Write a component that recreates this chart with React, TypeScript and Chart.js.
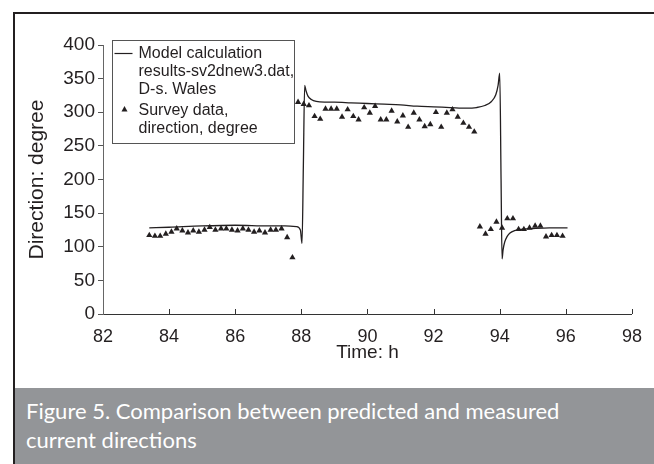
import React, { useEffect, useRef } from "react";
import { Chart, registerables } from "chart.js";
Chart.register(...registerables);

// ---- data ----
const modelTimes = [83.4, 84.0, 85.0, 86.0, 87.0, 87.5, 87.85, 87.97, 88.02, 88.06, 88.1, 88.14, 88.2, 88.3, 88.45, 88.7, 89.0, 89.5, 90.0, 90.5, 91.0, 91.5, 92.0, 92.5, 93.0, 93.3, 93.55, 93.75, 93.88, 93.95, 94.0, 94.04, 94.07, 94.1, 94.15, 94.22, 94.3, 94.45, 94.7, 95.0, 95.5, 96.05];
const modelValues = [128, 129, 131, 132, 131, 131, 130, 125, 105, 220, 340, 332, 324, 319, 316, 315, 315, 314, 313, 312, 311, 309, 308, 307, 306, 307, 310, 316, 326, 340, 358, 200, 82, 95, 107, 115, 120, 124, 126, 127, 128, 128];

const surveyTimes = [
  83.40, 83.57, 83.73, 83.90, 84.07, 84.23, 84.40, 84.57, 84.73, 84.90, 85.07, 85.23, 85.40, 85.57, 85.73, 85.90, 86.07, 86.23, 86.40, 86.57, 86.73, 86.90, 87.07, 87.23, 87.40, 87.57, 87.73,
  87.90, 88.07, 88.23, 88.40, 88.57, 88.73, 88.90, 89.07, 89.23, 89.40, 89.57, 89.73, 89.90, 90.07, 90.23, 90.40, 90.57, 90.73, 90.90, 91.07, 91.23, 91.40, 91.57, 91.73, 91.90, 92.07, 92.23, 92.40, 92.57, 92.73, 92.90, 93.07, 93.23,
  93.40, 93.57, 93.73, 93.90, 94.07, 94.23, 94.40, 94.57, 94.73, 94.90, 95.07, 95.23, 95.40, 95.57, 95.73, 95.90,
];
const surveyValues = [
  117, 116, 116, 119, 122, 127, 124, 121, 124, 122, 125, 129, 125, 127, 127, 125, 124, 127, 125, 122, 124, 121, 125, 125, 127, 114, 84,
  315, 312, 310, 294, 290, 305, 305, 305, 293, 304, 294, 289, 307, 299, 309, 289, 289, 302, 286, 295, 278, 299, 289, 279, 282, 300, 278, 299, 304, 293, 284, 278, 271,
  130, 119, 126, 137, 128, 142, 142, 126, 126, 128, 131, 131, 115, 117, 117, 116,
];

const xMin = 82, xMax = 98, xStep = 2;
const yMin = 0, yMax = 400, yStep = 50;
const xTitle = "Time: h";
const yTitle = "Direction: degree";
const legendModel = ["Model calculation", "results-sv2dnew3.dat,", "D-s. Wales"];
const legendSurvey = ["Survey data,", "direction, degree"];
const captionLines = ["Figure 5. Comparison between predicted and measured", "current directions"];

const INK = "#231f20";
const FONT = "'Liberation Sans', Arial, sans-serif";

const innerTicks = {
  id: "innerTicks",
  afterDraw(chart: any) {
    const { ctx, chartArea, scales } = chart;
    const xs = scales.x;
    ctx.save();
    ctx.strokeStyle = "#333";
    ctx.lineWidth = 1;
    xs.ticks.forEach((t: any) => {
      if (t.value === xMin) return;
      const px = Math.round(xs.getPixelForValue(t.value)) + 0.5;
      ctx.beginPath();
      ctx.moveTo(px, chartArea.bottom);
      ctx.lineTo(px, chartArea.bottom - 5);
      ctx.stroke();
    });
    ctx.restore();
  },
};

const boxLegend = {
  id: "boxLegend",
  afterDraw(chart: any) {
    const { ctx, chartArea } = chart;
    const bx = Math.round(chartArea.left + 9) + 0.5;
    const by = Math.round(chartArea.top - 5) + 0.5;
    const w = 182, h = 103;
    ctx.save();
    ctx.fillStyle = "#fff";
    ctx.fillRect(bx, by, w, h);
    ctx.strokeStyle = "#555";
    ctx.lineWidth = 1;
    ctx.strokeRect(bx, by, w, h);
    ctx.fillStyle = INK;
    ctx.font = `16px ${FONT}`;
    ctx.textBaseline = "middle";
    ctx.textAlign = "left";
    const tx = bx + 26;
    ctx.beginPath();
    ctx.strokeStyle = INK;
    ctx.lineWidth = 1.2;
    ctx.moveTo(bx + 2, by + 13);
    ctx.lineTo(bx + 20, by + 13);
    ctx.stroke();
    legendModel.forEach((s, i) => ctx.fillText(s, tx, by + 13 + i * 18));
    const cx = bx + 12, cy = by + 69;
    ctx.beginPath();
    ctx.moveTo(cx, cy - 3.5);
    ctx.lineTo(cx + 3, cy + 2);
    ctx.lineTo(cx - 3, cy + 2);
    ctx.closePath();
    ctx.fill();
    legendSurvey.forEach((s, i) => ctx.fillText(s, tx, by + 70 + i * 18));
    ctx.restore();
  },
};

export default function App() {
  const ref = useRef<HTMLCanvasElement>(null);
  useEffect(() => {
    if (!ref.current) return;
    const chart = new Chart(ref.current, {
      type: "scatter",
      data: {
        datasets: [
          {
            label: "Model",
            data: modelTimes.map((t, i) => ({ x: t, y: modelValues[i] })),
            showLine: true,
            borderColor: INK,
            borderWidth: 1.3,
            pointRadius: 0,
            cubicInterpolationMode: "monotone",
          } as any,
          {
            label: "Survey",
            data: surveyTimes.map((t, i) => ({ x: t, y: surveyValues[i] })),
            pointStyle: "triangle",
            pointRadius: 3.6,
            backgroundColor: INK,
            borderColor: INK,
            borderWidth: 0,
          },
        ],
      },
      options: {
        responsive: false,
        animation: false,
        layout: { padding: { left: 0, top: 31, right: 20, bottom: 14 } },
        plugins: { legend: { display: false }, tooltip: { enabled: false } },
        scales: {
          x: {
            type: "linear",
            min: xMin,
            max: xMax,
            ticks: { stepSize: xStep, color: INK, font: { family: FONT, size: 18 }, padding: 12 },
            grid: { display: false, drawTicks: false },
            border: { display: true, color: "#333", width: 1 },
            title: { display: true, text: xTitle, color: INK, font: { family: FONT, size: 19 }, padding: { top: 0, bottom: 10 } },
            afterFit: (s: any) => { s.height = 60; },
          },
          y: {
            type: "linear",
            min: yMin,
            max: yMax,
            ticks: { stepSize: yStep, color: INK, font: { family: FONT, size: 19 }, padding: 3 },
            grid: { display: true, drawOnChartArea: false, drawTicks: true, tickLength: 5, color: "#555" },
            border: { display: true, color: "#666", width: 1 },
            title: { display: true, text: yTitle, color: INK, font: { family: FONT, size: 21 }, padding: { top: 10, bottom: 0 } },
            afterFit: (s: any) => { s.width = 88; },
          },
        },
      },
      plugins: [innerTicks, boxLegend],
    });
    return () => chart.destroy();
  }, []);

  return (
    <div style={{ position: "fixed", left: 0, top: 0, width: 654, height: 464, background: "#fff", overflow: "hidden" }}>
      <div style={{ position: "absolute", left: 13, top: 12, width: 700, height: 500, borderLeft: `2px solid ${INK}`, borderTop: `2px solid ${INK}` }} />
      <div style={{ position: "absolute", left: 15, top: 14, width: 639, height: 374 }}>
        <canvas ref={ref} width={639} height={374} />
      </div>
      <div
        style={{
          position: "absolute",
          left: 15,
          top: 388,
          width: 639,
          height: 76,
          background: "#939598",
          color: "#fff",
          fontFamily: "Lato, 'Open Sans', sans-serif",
          fontSize: 22,
          lineHeight: "29px",
          paddingLeft: 11,
          paddingTop: 8,
          boxSizing: "border-box",
        }}
      >
        {captionLines.map((l, i) => (
          <div key={i}>{l}</div>
        ))}
      </div>
    </div>
  );
}
